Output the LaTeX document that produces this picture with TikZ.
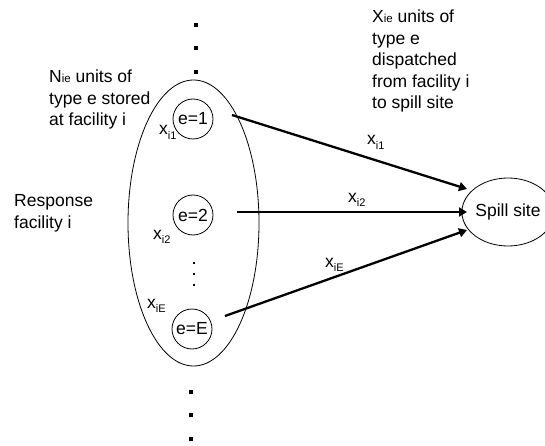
\documentclass[tikz,border=0pt]{standalone}
\usepackage{fontspec}
\setmainfont{Liberation Sans}
\usetikzlibrary{arrows.meta,shapes.geometric}
\newcommand{\xsub}[1]{x\raisebox{-4.5pt}{\fontsize{11}{11}\selectfont #1}}
\newcommand{\smallie}{{\fontsize{11.5}{11.5}\selectfont ie}}
\begin{document}
\begin{tikzpicture}[x=1pt,y=-1pt,
  font=\fontsize{17.5}{21.5}\selectfont,
  unit/.style={circle, draw, line width=0.8pt, minimum size=40pt, inner sep=0pt},
  flow/.style={line width=2.3pt, -{Triangle[length=8pt,width=9pt]}},
  bigdot/.style={rectangle, fill, minimum size=3.4pt, inner sep=0pt},
  smalldot/.style={rectangle, fill, minimum size=2.2pt, inner sep=0pt},
  lbl/.style={anchor=base west, inner sep=0pt}]
\useasboundingbox (0,0) rectangle (545,446);

% facility ellipse
\node[ellipse, draw, line width=0.8pt, minimum width=131pt, minimum height=286pt, inner sep=0pt] (fac) at (193.5,223) {};

% equipment types
\node[unit] (e1) at (193,119) {e=1};
\node[unit] (e2) at (193,215) {e=2};
\node[unit] (eE) at (192,329) {e=E};

% spill site
\node[ellipse, draw, line width=0.8pt, minimum width=72pt, minimum height=68pt, inner sep=0pt] (spill) at (508,212) {Spill site};

% arrow ends
\coordinate (s1) at (232,115);
\coordinate (s2) at (237,212);
\coordinate (sE) at (225,316);
\coordinate (t1) at (467,189);
\coordinate (t2) at (467,212);
\coordinate (tE) at (467,230);
\draw[flow] (s1) -- (t1);
\draw[flow] (s2) -- (t2);
\draw[flow] (sE) -- (tE);

% dots
\node[bigdot] (d1) at (196,25) {};
\node[bigdot] (d2) at (196,48) {};
\node[bigdot] (d3) at (196,72) {};
\node[bigdot] (d4) at (191,392) {};
\node[bigdot] (d5) at (191,415) {};
\node[bigdot] (d6) at (191,439) {};
\node[smalldot] (d7) at (194,263) {};
\node[smalldot] (d8) at (194,274) {};
\node[smalldot] (d9) at (194,285) {};

% labels near units
\node[lbl] (l1) at (159,135) {\xsub{i1}};
\node[lbl] (l2) at (153,239) {\xsub{i2}};
\node[lbl] (lE) at (147,308) {\xsub{iE}};

% labels on arrows
\node[lbl] (f1) at (367,145) {\xsub{i1}};
\node[lbl] (f2) at (348,202) {\xsub{i2}};
\node[lbl] (fE) at (325,267) {\xsub{iE}};

% text blocks
\node[lbl] (ntext) at (49,83) {\begin{tabular}[t]{@{}l@{}}N\smallie\ units of\\type e stored\\at facility i\end{tabular}};
\node[lbl] (rtext) at (14,207) {\begin{tabular}[t]{@{}l@{}}Response\\facility i\end{tabular}};
\node[lbl] (xtext) at (372,23) {\begin{tabular}[t]{@{}l@{}}X\smallie\ units of\\type e\\dispatched\\from facility i\\to spill site\end{tabular}};
\end{tikzpicture}
\end{document}
